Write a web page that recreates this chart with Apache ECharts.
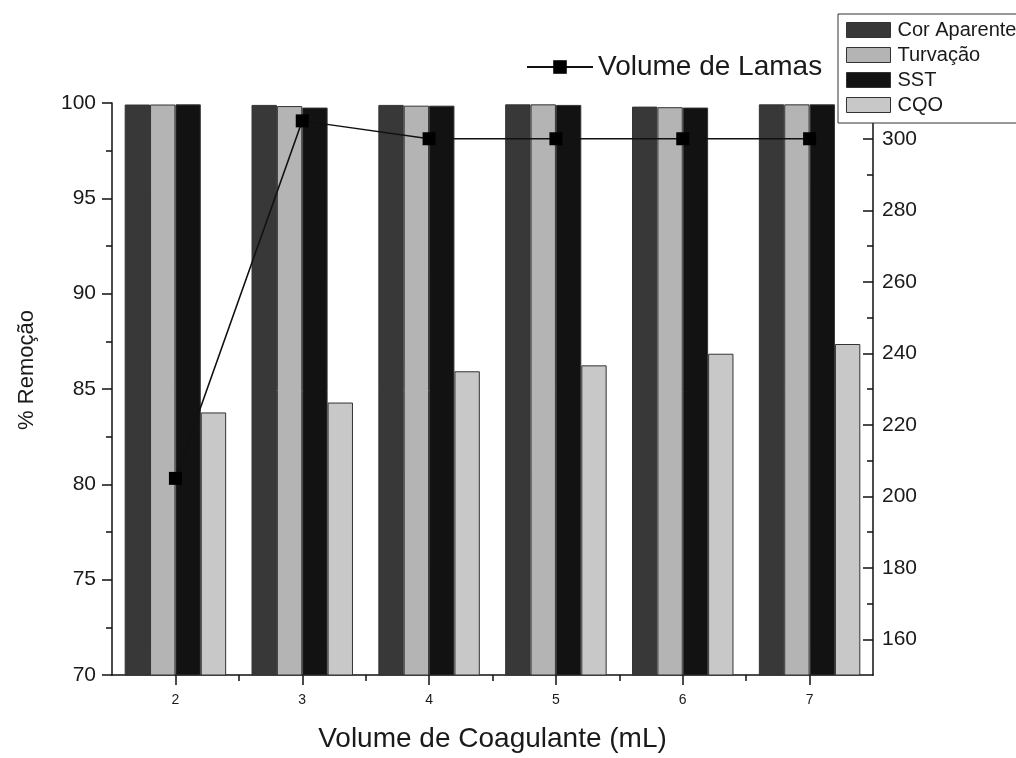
<!DOCTYPE html>
<html>
<head>
<meta charset="utf-8">
<script src="https://cdn.jsdelivr.net/npm/echarts@6/dist/echarts.min.js"></script>
<style>
  html, body { margin: 0; padding: 0; background: #fff; }
  #chart { width: 1016px; height: 758px; }
</style>
</head>
<body>
<div id="chart"></div>
<script>
// Volume de coagulante (mL)
const categories = ['2', '3', '4', '5', '6', '7'];

// % de remoção por parâmetro
const corAparente = [99.92, 99.90, 99.90, 99.93, 99.81, 99.93];
const turvacao    = [99.92, 99.84, 99.86, 99.93, 99.78, 99.93];
const sst         = [99.93, 99.76, 99.86, 99.90, 99.76, 99.93];
const cqo         = [83.77, 84.29, 85.93, 86.24, 86.85, 87.36];

// Volume de lamas (eixo direito)
const volumeLamas = [205, 305, 300, 300, 300, 300];

// Ticks
const rightMajor = [160, 180, 200, 220, 240, 260, 280, 300];
const rightMinor = [170, 190, 210, 230, 250, 270, 290];
const xMajor = [2, 3, 4, 5, 6, 7];
const xMinor = [2.5, 3.5, 4.5, 5.5, 6.5];

const FONT = 'Liberation Sans, Arial, sans-serif';
const INK = '#1a1a1a';

const chart = echarts.init(document.getElementById('chart'), null, { renderer: 'canvas' });

const barStyle = (color) => ({ color: color, borderColor: '#333', borderWidth: 1 });
const tickLine = { color: '#111', width: 1.5 };

const option = {
  backgroundColor: '#fff',
  animation: false,
  textStyle: { fontFamily: FONT, color: INK },
  grid: { left: 112, width: 761, top: 103, height: 580, containLabel: false },
  graphic: [
    {
      type: 'text',
      x: 27, y: 370,
      rotation: Math.PI / 2,
      style: {
        text: '% Remoção',
        font: '22px ' + FONT,
        fill: INK,
        align: 'center',
        verticalAlign: 'middle'
      },
      z: 10
    }
  ],
  legend: [
    {
      data: ['Cor Aparente', 'Turvação', 'SST', 'CQO'],
      orient: 'vertical',
      left: 838, top: 14,
      padding: [6, 40, 8, 8],
      itemWidth: 44, itemHeight: 15, itemGap: 5,
      backgroundColor: '#fff',
      borderColor: '#333', borderWidth: 1, borderRadius: 0,
      icon: 'rect',
      itemStyle: { borderColor: '#333', borderWidth: 1 },
      textStyle: { fontFamily: FONT, fontSize: 20, color: INK, padding: [0, 0, 0, 2] },
      z: 10
    },
    {
      data: ['Volume de Lamas'],
      left: 526, top: 53,
      padding: 0,
      itemWidth: 66, itemHeight: 17,
      textStyle: { fontFamily: FONT, fontSize: 28, color: INK },
      z: 10
    }
  ],
  xAxis: [
    {
      type: 'category',
      data: categories,
      position: 'bottom',
      boundaryGap: true,
      axisLine: { lineStyle: { color: '#111', width: 1.5 } },
      axisTick: { show: false },
      axisLabel: { fontFamily: FONT, fontSize: 14, color: INK, margin: 18 },
      splitLine: { show: false },
      name: 'Volume de Coagulante (mL)',
      nameLocation: 'middle',
      nameGap: 50,
      nameTextStyle: { fontFamily: FONT, fontSize: 28, color: INK }
    },
    {
      type: 'value', min: 1.5, max: 7.5, position: 'bottom',
      axisLine: { show: false },
      axisTick: { show: true, inside: false, length: 10, customValues: xMajor, lineStyle: tickLine },
      axisLabel: { show: false },
      splitLine: { show: false }
    },
    {
      type: 'value', min: 1.5, max: 7.5, position: 'bottom',
      axisLine: { show: false },
      axisTick: { show: true, inside: false, length: 6, customValues: xMinor, lineStyle: tickLine },
      axisLabel: { show: false },
      splitLine: { show: false }
    }
  ],
  yAxis: [
    {
      type: 'value', min: 70, max: 100, interval: 5, position: 'left',
      axisLine: { show: true, lineStyle: { color: '#111', width: 1.5 } },
      axisTick: { show: true, inside: false, length: 10, lineStyle: tickLine },
      minorTick: { show: true, splitNumber: 2, length: 6, lineStyle: tickLine },
      axisLabel: { fontFamily: FONT, fontSize: 21, color: INK, margin: 16 },
      splitLine: { show: false }
    },
    {
      type: 'value', min: 150, max: 310, position: 'right',
      axisLine: { show: true, lineStyle: { color: '#111', width: 1.5 } },
      axisTick: { show: true, inside: true, length: 10, customValues: rightMajor, lineStyle: tickLine },
      axisLabel: { fontFamily: FONT, fontSize: 21, color: INK, margin: 9, customValues: rightMajor },
      splitLine: { show: false }
    },
    {
      type: 'value', min: 150, max: 310, position: 'right',
      axisLine: { show: false },
      axisTick: { show: true, inside: true, length: 6, customValues: rightMinor, lineStyle: tickLine },
      axisLabel: { show: false },
      splitLine: { show: false }
    }
  ],
  series: [
    { name: 'Cor Aparente', type: 'bar', xAxisIndex: 0, yAxisIndex: 0, data: corAparente,
      barGap: '0%', barCategoryGap: '20%', itemStyle: barStyle('#383838') },
    { name: 'Turvação', type: 'bar', xAxisIndex: 0, yAxisIndex: 0, data: turvacao,
      itemStyle: barStyle('#b4b4b4') },
    { name: 'SST', type: 'bar', xAxisIndex: 0, yAxisIndex: 0, data: sst,
      itemStyle: barStyle('#121212') },
    { name: 'CQO', type: 'bar', xAxisIndex: 0, yAxisIndex: 0, data: cqo,
      itemStyle: barStyle('#c8c8c8') },
    { name: 'Volume de Lamas', type: 'line', xAxisIndex: 0, yAxisIndex: 1, data: volumeLamas,
      symbol: 'rect', symbolSize: 13, z: 5,
      lineStyle: { color: '#111', width: 1.5 },
      itemStyle: { color: '#000' } }
  ]
};

chart.setOption(option);
</script>
</body>
</html>
